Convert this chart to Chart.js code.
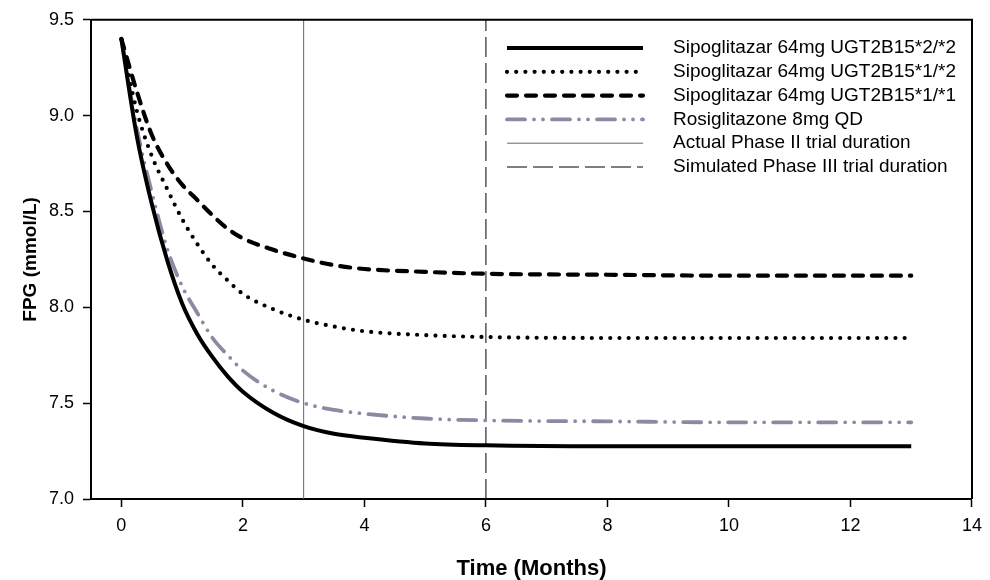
<!DOCTYPE html>
<html>
<head>
<meta charset="utf-8">
<title>FPG over time</title>
<script src="https://cdn.jsdelivr.net/npm/chart.js@4.4.1/dist/chart.umd.min.js"></script>
<style>
  html, body { margin: 0; padding: 0; background: #fff; }
  #wrap { width: 990px; height: 580px; }
</style>
</head>
<body>
<div id="wrap"><canvas id="fpgChart" width="990" height="580"></canvas></div>
<script>
// time points (months) shared by all simulated curves
const months = [0, 0.25, 0.5, 0.75, 1, 1.25, 1.5, 1.75, 2, 2.5, 3, 3.5, 4, 5, 6, 8, 10, 13];

const fpgStar2Star2 = [9.40, 8.90, 8.54, 8.25, 8.02, 7.86, 7.74, 7.64, 7.56, 7.45, 7.38, 7.34, 7.32, 7.29, 7.28, 7.275, 7.275, 7.275];
const fpgStar1Star2 = [9.40, 9.03, 8.79, 8.62, 8.46, 8.33, 8.22, 8.14, 8.07, 7.99, 7.935, 7.90, 7.875, 7.855, 7.845, 7.84, 7.84, 7.84];
const fpgStar1Star1 = [9.40, 9.13, 8.90, 8.75, 8.64, 8.56, 8.48, 8.41, 8.36, 8.30, 8.255, 8.22, 8.20, 8.185, 8.175, 8.17, 8.165, 8.165];
const fpgRosi = [9.40, 8.94, 8.60, 8.31, 8.11, 7.97, 7.84, 7.75, 7.67, 7.565, 7.50, 7.465, 7.445, 7.42, 7.41, 7.405, 7.40, 7.40];

const seriesLabels = [
  'Sipoglitazar 64mg UGT2B15*2/*2',
  'Sipoglitazar 64mg UGT2B15*1/*2',
  'Sipoglitazar 64mg UGT2B15*1/*1',
  'Rosiglitazone 8mg QD'
];
const phaseLabels = ['Actual Phase II trial duration', 'Simulated Phase III trial duration'];
const phaseMonths = [3, 6];

const xTicks = [0, 2, 4, 6, 8, 10, 12, 14];
const yTicks = [7.0, 7.5, 8.0, 8.5, 9.0, 9.5];

const FONT = "'Liberation Sans', Arial, sans-serif";

const toPoints = (vals) => vals.map((v, i) => ({ x: months[i], y: v }));
const vLine = (m) => [{ x: m, y: yTicks[0] }, { x: m, y: yTicks[yTicks.length - 1] }];

const curveBase = {
  pointRadius: 0,
  fill: false,
  cubicInterpolationMode: 'monotone',
  borderCapStyle: 'round',
  borderJoinStyle: 'round'
};

const datasets = [
  { ...curveBase, label: seriesLabels[0], data: toPoints(fpgStar2Star2), borderColor: '#000', borderWidth: 4, borderCapStyle: 'butt' },
  { ...curveBase, label: seriesLabels[1], data: toPoints(fpgStar1Star2), borderColor: '#000', borderWidth: 4.2, borderDash: [0, 9.2] },
  { ...curveBase, label: seriesLabels[2], data: toPoints(fpgStar1Star1), borderColor: '#000', borderWidth: 4.2, borderDash: [10, 9] },
  { ...curveBase, label: seriesLabels[3], data: toPoints(fpgRosi), borderColor: '#8a8aa3', borderWidth: 3.8, borderDash: [18, 9, 0, 9, 0, 9] },
  { label: phaseLabels[0], data: vLine(phaseMonths[0]), borderColor: '#666', borderWidth: 1, pointRadius: 0, fill: false },
  { label: phaseLabels[1], data: vLine(phaseMonths[1]), borderColor: '#000', borderWidth: 1, borderDash: [20, 6], pointRadius: 0, fill: false }
];

// box around plot (top + right edges)
const framePlugin = {
  id: 'frame',
  afterDatasetsDraw(chart) {
    const { ctx, chartArea: a } = chart;
    ctx.save();
    ctx.strokeStyle = '#000';
    ctx.lineWidth = 2;
    ctx.beginPath();
    ctx.moveTo(a.left, a.top);
    ctx.lineTo(a.right, a.top);
    ctx.lineTo(a.right, a.bottom);
    ctx.stroke();
    ctx.restore();
  }
};

// legend inside the plot, top right
const legendPlugin = {
  id: 'insideLegend',
  afterDraw(chart) {
    const ctx = chart.ctx;
    const x0 = 507, x1 = 643, tx = 673, y0 = 48, rowH = 23.8;
    ctx.save();
    chart.data.datasets.forEach((ds, i) => {
      const y = y0 + i * rowH;
      ctx.strokeStyle = ds.borderColor;
      ctx.lineWidth = ds.borderWidth;
      ctx.lineCap = ds.borderCapStyle || 'butt';
      ctx.setLineDash(ds.borderDash || []);
      ctx.beginPath();
      ctx.moveTo(x0, y);
      ctx.lineTo(x1, y);
      ctx.stroke();
      ctx.setLineDash([]);
      ctx.fillStyle = '#000';
      ctx.font = '19px ' + FONT;
      ctx.textBaseline = 'middle';
      ctx.textAlign = 'left';
      ctx.fillText(ds.label, tx, y);
    });
    ctx.restore();
  }
};

new Chart(document.getElementById('fpgChart').getContext('2d'), {
  type: 'line',
  data: { datasets },
  options: {
    responsive: false,
    animation: false,
    devicePixelRatio: 1,
    layout: { padding: { top: 16, right: 17, left: 0, bottom: 0 } },
    plugins: { legend: { display: false }, tooltip: { enabled: false } },
    scales: {
      x: {
        type: 'linear',
        min: -0.5,
        max: 14,
        afterBuildTicks: (axis) => { axis.ticks = xTicks.map((v) => ({ value: v })); },
        afterFit: (scale) => { scale.height = 81; },
        ticks: { color: '#000', padding: 8, font: { family: FONT, size: 18 }, callback: (v) => String(v) },
        grid: { drawOnChartArea: false, drawTicks: true, tickLength: 8, tickColor: '#000', tickWidth: 1.5 },
        border: { display: true, color: '#000', width: 2 },
        title: { display: true, text: 'Time (Months)', color: '#000', font: { family: FONT, size: 22, weight: 'bold', lineHeight: 1 }, padding: { top: 0, bottom: 0 } }
      },
      y: {
        min: 7.0,
        max: 9.5,
        afterBuildTicks: (axis) => { axis.ticks = yTicks.map((v) => ({ value: v })); },
        afterFit: (scale) => { scale.width = 91; },
        ticks: { color: '#000', padding: 9, font: { family: FONT, size: 18 }, callback: (v) => v.toFixed(1) },
        grid: { drawOnChartArea: false, drawTicks: true, tickLength: 8, tickColor: '#000', tickWidth: 1.5 },
        border: { display: true, color: '#000', width: 2 },
        title: { display: true, text: 'FPG (mmol/L)', color: '#000', font: { family: FONT, size: 19, weight: 'bold' }, padding: { top: 19, bottom: 0 } }
      }
    }
  },
  plugins: [framePlugin, legendPlugin]
});
</script>
</body>
</html>
